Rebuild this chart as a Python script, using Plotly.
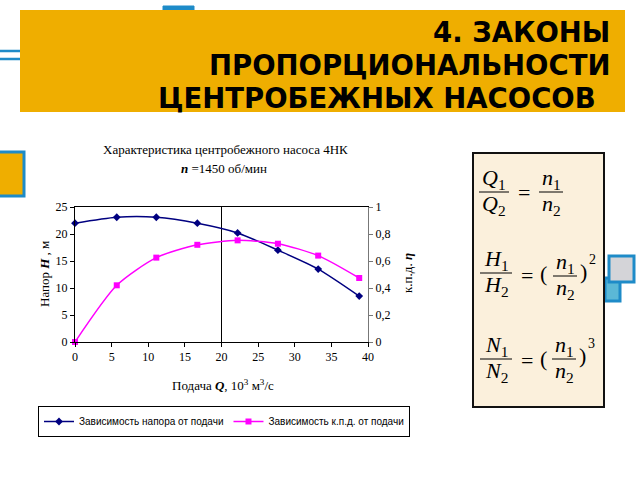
import plotly.graph_objects as go

# ---- data ----
Q = [0, 5.7, 11.1, 16.7, 22.2, 27.7, 33.2, 38.8]          # подача, 10^3 м^3/с
H = [22.0, 23.1, 23.1, 22.0, 20.2, 17.0, 13.5, 8.5]       # напор, м
ETA = [0, 0.42, 0.625, 0.72, 0.753, 0.728, 0.64, 0.474]   # к.п.д.
X_TICKS = [0, 5, 10, 15, 20, 25, 30, 35, 40]
H_TICKS = [0, 5, 10, 15, 20, 25]
ETA_TICKS = [0, 0.2, 0.4, 0.6, 0.8, 1]
ETA_TICK_TEXT = ["0", "0,2", "0,4", "0,6", "0,8", "1"]

# plot area in pixels (640x480 page)
L, R, T, B = 75, 368, 207, 342
W, HH = 640, 480


def X(px):
    return (px - L) / (R - L)


def Y(py):
    return (B - py) / (B - T)


SERIF = "Liberation Serif, Times New Roman, serif"
SANS = "Liberation Sans, Arial, sans-serif"
BLUE = "#1E8BC8"
ORANGE = "#EFAE00"

fig = go.Figure()
fig.add_trace(go.Scatter(
    x=Q, y=H, name="Зависимость напора от подачи",
    mode="lines+markers", line=dict(color="#000080", width=1.5, shape="spline", smoothing=0.7),
    marker=dict(symbol="diamond", size=6, color="#000080"), cliponaxis=False))
fig.add_trace(go.Scatter(
    x=Q, y=ETA, name="Зависимость к.п.д. от подачи", yaxis="y2",
    mode="lines+markers", line=dict(color="#FF00FF", width=1.5, shape="spline", smoothing=0.7),
    marker=dict(symbol="square", size=6, color="#FF00FF"), cliponaxis=False))

shapes = []
ann = []

# vertical gridline at 20
shapes.append(dict(type="line", xref="x", yref="paper", x0=20, x1=20, y0=0, y1=1,
                   line=dict(color="black", width=1), layer="below"))

# --- slide decorations ---
def rect(x0, y0, x1, y1, fill, line_color=None, lw=0, layer="above"):
    shapes.append(dict(type="rect", xref="paper", yref="paper",
                       x0=X(x0), x1=X(x1), y0=Y(y1), y1=Y(y0),
                       fillcolor=fill, line=dict(color=line_color or fill, width=lw), layer=layer))

rect(163, 6, 194, 14, BLUE, BLUE, 1)                      # top tab
rect(-2, 51, 22, 59, "white", BLUE, 2.5)                  # left double line
rect(20, 10, 625, 112, ORANGE, ORANGE, 0)                 # banner
rect(-2, 152, 24, 196, ORANGE, BLUE, 3)                   # left square
rect(605, 278, 620, 301, "#5BB8D6", BLUE, 3)              # right lower square
rect(609, 256, 634, 282, "#D4D4D8", BLUE, 3)              # right grey square
rect(473, 153, 604, 407, "#FBF0DC", "#111111", 2)         # formula box

# banner title
for txt, xr, yc in [("4. ЗАКОНЫ", 612, 32), ("ПРОПОРЦИОНАЛЬНОСТИ", 612, 65),
                    ("ЦЕНТРОБЕЖНЫХ НАСОСОВ", 598, 98)]:
    ann.append(dict(text=f"<b>{txt}</b>", x=X(xr), y=Y(yc), xanchor="right", yanchor="middle",
                    font=dict(family="DejaVu Sans, sans-serif", size=27.5, color="black")))

# chart title
ann.append(dict(text="Характеристика центробежного насоса 4НК", x=X(225), y=Y(149),
                xanchor="center", yanchor="middle", font=dict(family=SERIF, size=13, color="black")))
ann.append(dict(text="<b><i>n</i></b> =1450 об/мин", x=X(224), y=Y(168),
                xanchor="center", yanchor="middle", font=dict(family=SERIF, size=13, color="black")))
# axis titles
ann.append(dict(text="Напор <b><i>H</i></b> , м", x=X(44), y=Y(274), textangle=-90,
                xanchor="center", yanchor="middle", font=dict(family=SERIF, size=13, color="black")))
ann.append(dict(text="к.п.д. <b><i>η</i></b>", x=X(407), y=Y(273), textangle=-90,
                xanchor="center", yanchor="middle", font=dict(family=SERIF, size=13, color="black")))
ann.append(dict(text="Подача <b><i>Q</i></b>, 10<sup>3</sup> м<sup>3</sup>/с", x=X(223), y=Y(385),
                xanchor="center", yanchor="middle", font=dict(family=SERIF, size=13, color="black")))

# formulas
FF = dict(family=SERIF, size=22, color="black")
def frac(num, den, xc, yline, w):
    ann.append(dict(text=num, x=X(xc), y=Y(yline - 13), xanchor="center", yanchor="middle", font=FF))
    ann.append(dict(text=den, x=X(xc), y=Y(yline + 13), xanchor="center", yanchor="middle", font=FF))
    shapes.append(dict(type="line", xref="paper", yref="paper", x0=X(xc - w / 2), x1=X(xc + w / 2),
                       y0=Y(yline), y1=Y(yline), line=dict(color="black", width=1)))

def sym(t, xc, yc, size=22):
    ann.append(dict(text=t, x=X(xc), y=Y(yc), xanchor="center", yanchor="middle",
                    font=dict(family=SERIF, size=size, color="black")))

frac("<i>Q</i><sub>1</sub>", "<i>Q</i><sub>2</sub>", 494, 192, 30)
sym("=", 524, 192)
frac("<i>n</i><sub>1</sub>", "<i>n</i><sub>2</sub>", 551, 192, 24)

frac("<i>H</i><sub>1</sub>", "<i>H</i><sub>2</sub>", 496, 273, 32)
sym("=", 527, 275)
sym("(", 543, 273)
frac("<i>n</i><sub>1</sub>", "<i>n</i><sub>2</sub>", 565, 276, 24)
sym(")", 583, 271)
sym("2", 592, 259, 14)

frac("<i>N</i><sub>1</sub>", "<i>N</i><sub>2</sub>", 496, 359, 32)
sym("=", 527, 360)
sym("(", 543, 358)
frac("<i>n</i><sub>1</sub>", "<i>n</i><sub>2</sub>", 564, 359, 24)
sym(")", 582, 355)
sym("3", 591, 343, 14)

for a in ann:
    a.setdefault("xref", "paper")
    a.setdefault("yref", "paper")
    a.setdefault("showarrow", False)

fig.update_layout(
    width=W, height=HH,
    margin=dict(l=L, r=W - R, t=T, b=HH - B, autoexpand=False),
    paper_bgcolor="white", plot_bgcolor="white",
    separators=", ",
    showlegend=True,
    legend=dict(orientation="h", x=X(38), y=Y(406), xanchor="left", yanchor="top",
                bordercolor="black", borderwidth=1, bgcolor="white",
                font=dict(family=SANS, size=10, color="black"),
                itemwidth=30, tracegroupgap=0),
    xaxis=dict(range=[0, 40], tickvals=X_TICKS, showgrid=False, zeroline=False,
               showline=True, linecolor="black", linewidth=1, mirror=True,
               ticks="outside", ticklen=4, tickcolor="black",
               tickfont=dict(family=SERIF, size=12, color="black")),
    yaxis=dict(range=[0, 25], tickvals=H_TICKS, showgrid=False, zeroline=False,
               showline=True, linecolor="black", linewidth=1,
               ticks="outside", ticklen=4, tickcolor="black",
               tickfont=dict(family=SERIF, size=12, color="black")),
    yaxis2=dict(range=[0, 1], tickvals=ETA_TICKS, ticktext=ETA_TICK_TEXT, overlaying="y", side="right",
                showgrid=False, zeroline=False, showline=True, linecolor="#777777", linewidth=1,
                ticks="outside", ticklen=4, tickcolor="#777777",
                tickfont=dict(family=SERIF, size=12, color="black")),
    shapes=shapes, annotations=ann,
)

fig.write_html("out.html", config={"displayModeBar": False},
               post_script="document.body.style.margin='0';document.body.style.overflow='hidden';")
